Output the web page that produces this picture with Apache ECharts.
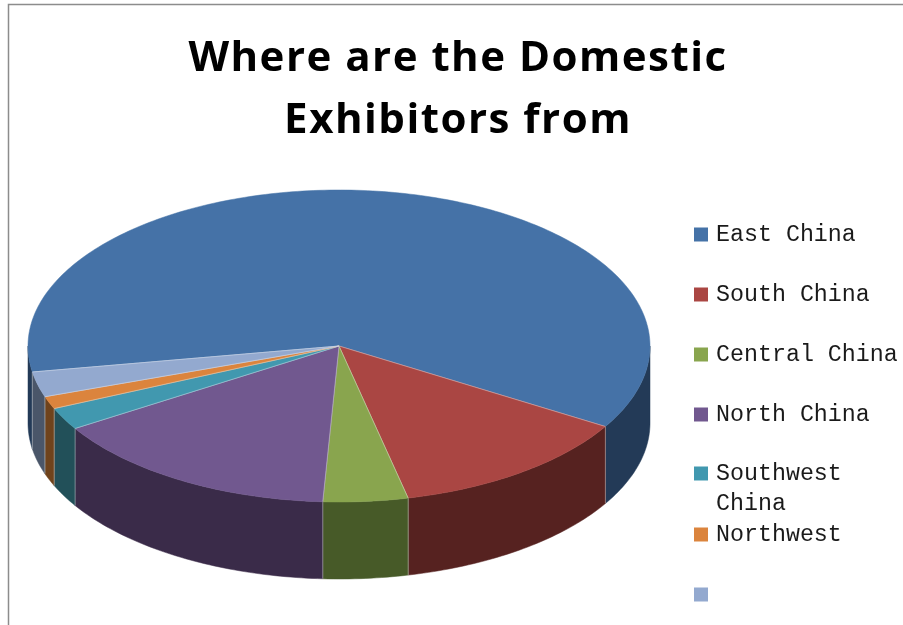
<!DOCTYPE html>
<html>
<head>
<meta charset="utf-8">
<style>html,body{margin:0;padding:0;background:#fff}#chart{width:903px;height:625px}</style>
<script src="https://cdn.jsdelivr.net/npm/echarts@6/dist/echarts.min.js"></script>
</head>
<body>
<div id="chart"></div>
<script>
// Share of domestic exhibitors by region (the last slice has no label in the source data)
const categories = ['East China', 'South China', 'Central China', 'North China', 'Southwest China', 'Northwest', ' '];
const shares = [61.3, 12.8, 4.4, 15.3, 2.3, 1.3, 2.6];
const topColors = ['#4572a7', '#aa4643', '#89a54e', '#71588f', '#4198af', '#db843d', '#93a9cf'];
const wallColors = ['#233a57', '#562220', '#475a28', '#3a2b49', '#225059', '#6f431c', '#4a5669'];

// Tilted disc geometry
const CX = 339, CY = 346, RX = 311, RY = 156, DEPTH = 77, START = 260.4;
const total = shares.reduce((a, b) => a + b, 0);

function rim(deg, drop) {
  const t = deg * Math.PI / 180;
  return [CX + RX * Math.sin(t), CY - RY * Math.cos(t) + (drop || 0)];
}
function arc(from, to, drop) {
  const pts = [];
  const n = Math.max(2, Math.ceil(Math.abs(to - from)));
  for (let i = 0; i <= n; i++) pts.push(rim(from + (to - from) * i / n, drop));
  return pts;
}

function sliceRenderer(index) {
  return function (params, api) {
    let before = 0;
    for (let i = 0; i < index; i++) before += shares[i];
    const a = START + before / total * 360;
    const b = a + api.value(0) / total * 360;
    const children = [];
    // Outer wall: only the part of the rim that faces the viewer
    [[90, 270], [450, 630]].forEach(function (range) {
      const s = Math.max(a, range[0]), e = Math.min(b, range[1]);
      if (e <= s) return;
      const upper = arc(s, e, 0), lower = arc(e, s, DEPTH);
      children.push({
        type: 'polygon',
        shape: { points: upper.concat(lower) },
        style: { fill: wallColors[index], stroke: wallColors[index], lineWidth: 0.5 }
      });
      // Seams between neighbouring walls
      [s, e].forEach(function (d) {
        if (d === 90 || d === 270 || d === 450 || d === 630) return;
        children.push({
          type: 'polyline',
          shape: { points: [rim(d, 0), rim(d, DEPTH)] },
          style: { fill: null, stroke: 'rgba(255,255,255,0.3)', lineWidth: 1 }
        });
      });
    });
    // Top face
    children.push({
      type: 'polygon',
      shape: { points: [[CX, CY]].concat(arc(a, b, 0)) },
      style: { fill: topColors[index], stroke: topColors[index], lineWidth: 0.5 }
    });
    children.push({
      type: 'polyline',
      shape: { points: [rim(a, 0), [CX, CY], rim(b, 0)] },
      style: { fill: null, stroke: 'rgba(255,255,255,0.3)', lineWidth: 1 }
    });
    return { type: 'group', children: children };
  };
}

// The wrapped entry keeps its first line beside the swatch
const legendLabels = { 'Southwest China': '\nSouthwest\nChina' };
const LEGEND_TOP = 227, LEGEND_STEP = 60;
const legendInset = function (name) { return legendLabels[name] ? 40 : 9; };

const option = {
  animation: false,
  backgroundColor: '#ffffff',
  title: {
    text: 'Where are the Domestic\nExhibitors from',
    left: 453,
    top: 23,
    zlevel: 1,
    textAlign: 'center',
    textStyle: {
      fontFamily: '"Open Sans"',
      fontWeight: 'bold',
      fontSize: 42,
      lineHeight: 62,
      color: '#000000'
    }
  },
  legend: categories.map(function (name, i) {
    return {
      data: [name],
      orient: 'vertical',
      left: 694,
      top: LEGEND_TOP + i * LEGEND_STEP - legendInset(name),
      padding: 0,
      itemWidth: 14,
      itemHeight: 14,
      icon: 'rect',
      selectedMode: false,
      formatter: function (n) { return legendLabels[n] || n; },
      textStyle: {
        fontFamily: '"Liberation Mono"',
        fontSize: 23.3,
        lineHeight: 30,
        color: '#1a1a1a',
        padding: [3, 0, 0, 3]
      }
    };
  }),
  graphic: [{
    type: 'polyline',
    silent: true,
    shape: { points: [[8.5, 640], [8.5, 4.5], [920, 4.5]] },
    style: { fill: null, stroke: '#8c8c8c', lineWidth: 1.5 }
  }],
  series: categories.map(function (name, i) {
    return {
      type: 'custom',
      name: name,
      coordinateSystem: 'none',
      silent: true,
      itemStyle: { color: topColors[i] },
      renderItem: sliceRenderer(i),
      data: [shares[i]]
    };
  })
};

const chart = echarts.init(document.getElementById('chart'), null, { renderer: 'canvas' });
chart.setOption(option);

// The heading sits on its own canvas layer so it can be tracked out
const painter = chart.getZr().painter;
const headingLayer = painter.getLayer && painter.getLayer(1);
if (headingLayer && headingLayer.ctx) {
  headingLayer.ctx.letterSpacing = '1.5px';
  painter.refresh(true);
}
</script>
</body>
</html>
